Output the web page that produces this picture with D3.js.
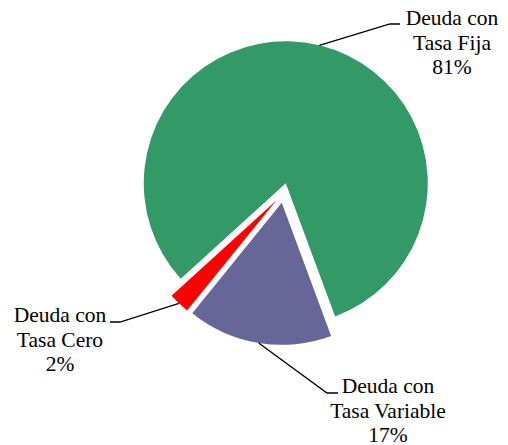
<!DOCTYPE html>
<html>
<head>
<meta charset="utf-8">
<script src="https://cdn.jsdelivr.net/npm/d3@7"></script>
<style>
  body { margin: 0; background: #fff; }
  text { font-family: "Liberation Serif", "Times New Roman", serif; font-size: 21.5px; fill: #000; }
</style>
</head>
<body>
<div id="chart"></div>
<script>
// data
const categories = ["Deuda con Tasa Fija", "Deuda con Tasa Variable", "Deuda con Tasa Cero"];
const values = [81.1, 16.5, 2.4];
const pctLabels = ["81%", "17%", "2%"];
const colors = ["#339966", "#666699", "#FF0000"];

var width = 508, height = 445;
var cx = 283.4, cy = 193;
var radius = 142;
var explode = 10;
var startDeg = 227.7;

// where each label sits: elbow of the leader, end of the short tick, text centre, first baseline
var labelPos = [
  { elbow: [390, 24], end: [400, 24], tx: 452, ty: 25 },
  { elbow: [327, 393], end: [338, 393], tx: 388, ty: 393 },
  { elbow: [120, 322], end: [110, 322], tx: 60, ty: 322 }
];

var svg = d3.select("#chart")
  .append("svg")
  .attr("width", width)
  .attr("height", height);

var pie = d3.pie()
  .sort(null)
  .value(function(d) { return d; })
  .startAngle(startDeg * Math.PI / 180)
  .endAngle(startDeg * Math.PI / 180 + 2 * Math.PI);

var arcs = pie(values);

var arc = d3.arc()
  .innerRadius(0)
  .outerRadius(radius);

function dir(a) { return [Math.sin(a), -Math.cos(a)]; }

var g = svg.append("g")
  .attr("transform", "translate(" + cx + "," + cy + ")");

// slices, each pulled out along its middle angle
g.selectAll("path.slice")
  .data(arcs)
  .enter()
  .append("path")
  .attr("class", "slice")
  .attr("d", arc)
  .attr("transform", function(d) {
    var m = dir((d.startAngle + d.endAngle) / 2);
    return "translate(" + (m[0] * explode) + "," + (m[1] * explode) + ")";
  })
  .style("fill", function(d, i) { return colors[i]; })
  .style("stroke", "none");

// leader lines from the outer edge of each slice
arcs.forEach(function(d, i) {
  var m = dir((d.startAngle + d.endAngle) / 2);
  var sx = cx + m[0] * (explode + radius),
      sy = cy + m[1] * (explode + radius);
  var lp = labelPos[i];

  svg.append("polyline")
    .attr("points", [[sx, sy], lp.elbow, lp.end].map(function(p) { return p.join(","); }).join(" "))
    .style("fill", "none")
    .style("stroke", "#000")
    .style("stroke-width", "1.3px");

  var words = categories[i].split(" ");
  var lines = [words.slice(0, 2).join(" "), words.slice(2).join(" "), pctLabels[i]];

  var t = svg.append("text")
    .attr("text-anchor", "middle");
  lines.forEach(function(l, k) {
    t.append("tspan")
      .attr("x", lp.tx)
      .attr("y", lp.ty + k * 24.5)
      .text(l);
  });
});
</script>
</body>
</html>
